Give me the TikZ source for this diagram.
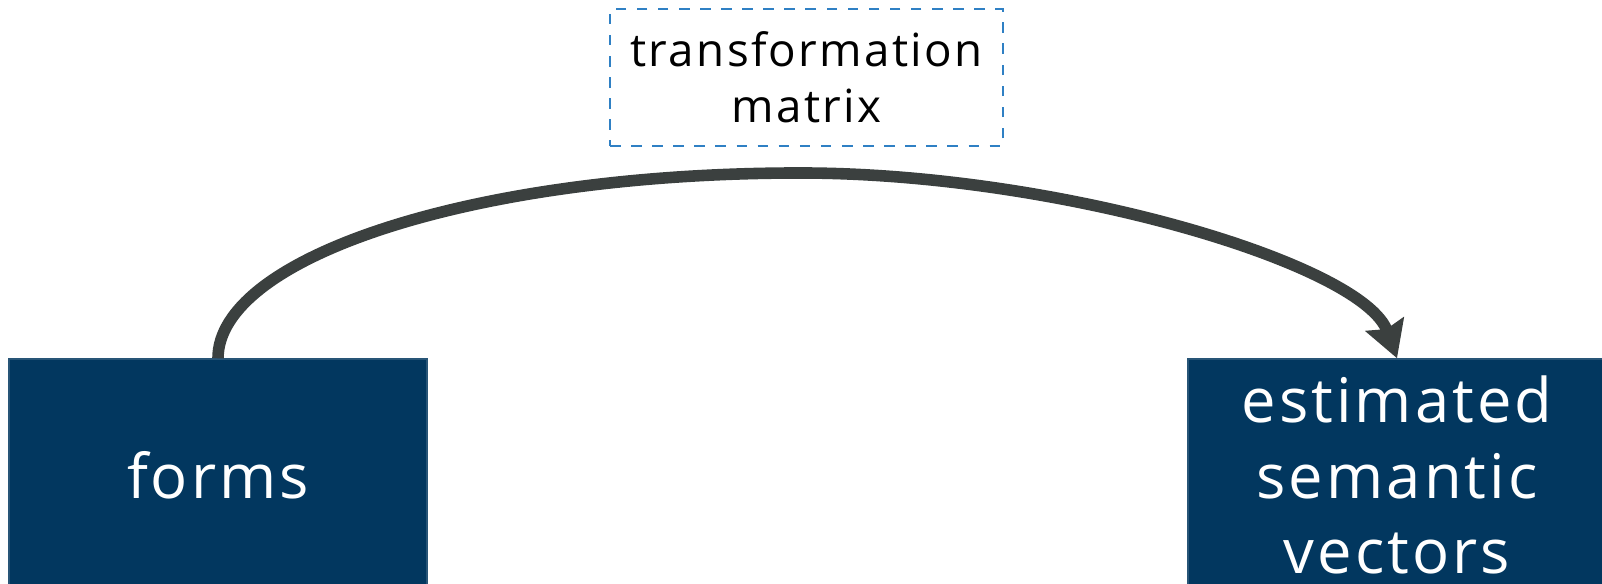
\documentclass[tikz,border=0pt]{standalone}
\usepackage{fontspec}
\setmainfont{Open Sans}[LetterSpace=5]
\usetikzlibrary{arrows.meta,positioning}
\definecolor{boxnavy}{HTML}{02375F}
\definecolor{noteblue}{HTML}{2F80C4}
\definecolor{arcgray}{HTML}{3B403F}

\begin{document}
\begin{tikzpicture}[
  font=\fontsize{17.5}{21.4}\selectfont,
  block/.style={fill=boxnavy,draw=boxnavy!85!white,text=white,align=center,
                minimum width=4.18cm,minimum height=2.32cm,inner sep=0pt},
  note/.style={draw=noteblue,dashed,line width=0.4pt,align=center,
               minimum width=3.93cm,minimum height=1.37cm,inner sep=0pt,
               font=\fontsize{13}{16}\selectfont},
  link/.style={-{Stealth[length=3.6mm,width=4mm,inset=0.5mm]},
               line width=3.3pt,draw=arcgray},
]
  \useasboundingbox (0,0) rectangle (16.02,5.84);

  \node[block] (forms)  at (2.18,1.09)   {forms};
  \node[block] (semvec) at (13.97,1.09)  {estimated\\semantic\\vectors};
  \node[note]  (matrix) at (8.065,5.065) {transformation\\matrix};

  % top of the arc
  \coordinate (crest) at (8.0,4.11);

  \draw[link] (forms.north) .. controls ++(0,1.0) and ++(-3.3,0) .. (crest)
                            .. controls ++(2.6,0) and ++(-0.34,0.94) .. (semvec.north);
\end{tikzpicture}
\end{document}
